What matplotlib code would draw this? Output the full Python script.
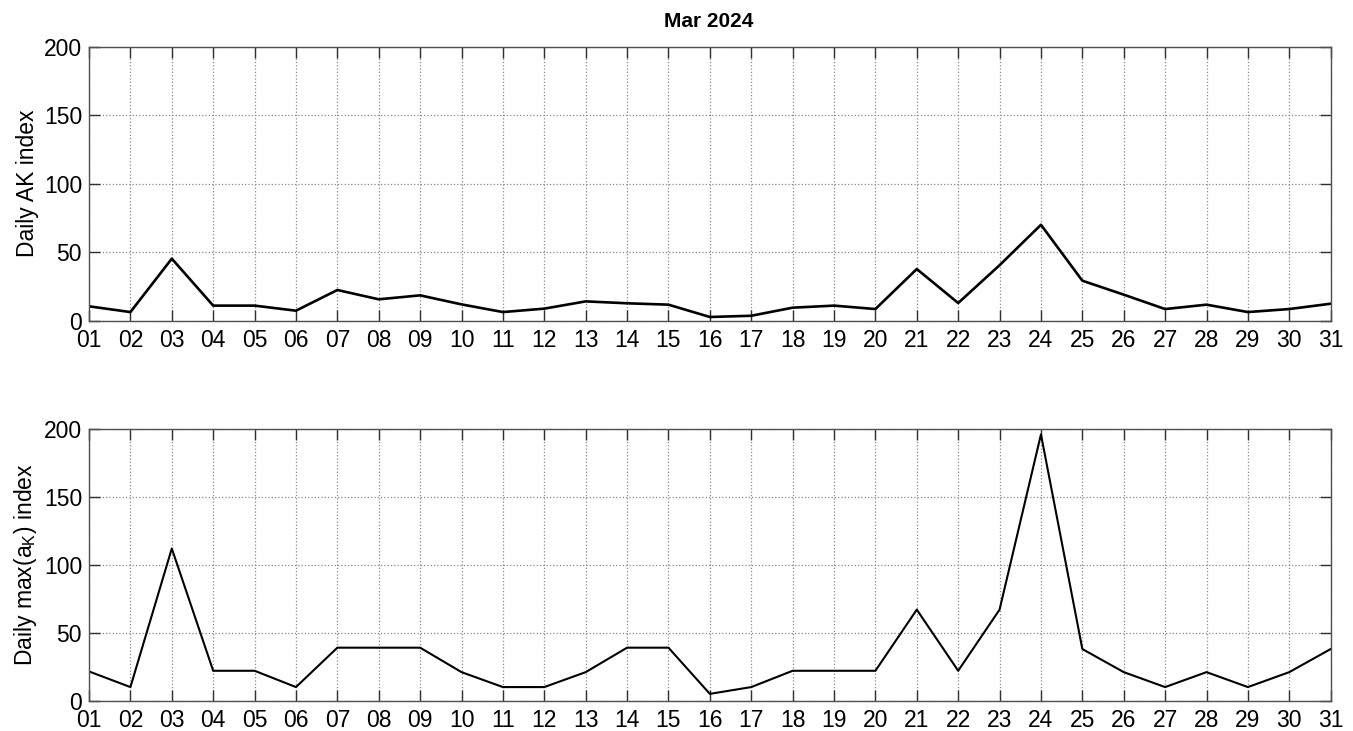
import matplotlib
matplotlib.use("Agg")
import matplotlib.pyplot as plt

plt.rcParams["font.family"] = ["Liberation Sans", "DejaVu Sans"]
plt.rcParams["mathtext.fontset"] = "custom"
plt.rcParams["mathtext.rm"] = "Liberation Sans"
plt.rcParams["mathtext.it"] = "Liberation Sans:italic"

days = list(range(1, 32))
day_labels = ["%02d" % d for d in days]

# daily AK index
ak_daily = [10.5, 6.3, 45.3, 11, 11, 7.3, 22.4, 15.6, 18.5, 11.9, 6.3, 8.8, 14.1, 12.7, 11.7, 2.7,
            3.6, 9.5, 11, 8.5, 37.7, 12.9, 40.5, 70, 29.2, 19, 8.5, 11.7, 6.3, 8.5, 12.4]
# daily max(a_K)
ak_max = [21.5, 10, 112, 22, 22, 10, 39, 39, 39, 21, 10, 10, 21, 39, 39, 5,
          10, 22, 22, 22, 67, 22, 67, 196, 38, 21, 10, 21, 10, 21, 38]

y_ticks = [0, 50, 100, 150, 200]

fig = plt.figure(figsize=(13.53, 7.31), dpi=100)
ax1 = fig.add_axes([0.0658, 0.5613, 0.9177, 0.3748])
ax2 = fig.add_axes([0.0658, 0.0415, 0.9177, 0.3717])

for ax, vals, lw in [(ax1, ak_daily, 1.9), (ax2, ak_max, 1.5)]:
    ax.plot(days, vals, color="black", lw=lw)
    ax.set_xlim(1, 31)
    ax.set_ylim(0, 200)
    ax.set_xticks(days)
    ax.set_xticklabels(day_labels)
    ax.set_yticks(y_ticks)
    ax.grid(True, linestyle=":", color="#8a8a8a", lw=0.9)
    ax.tick_params(direction="in", length=8, width=1, top=True, right=True,
                   labelsize=16.5, colors="#303030", labelcolor="black")
    ax.tick_params(axis="x", pad=6)
    ax.tick_params(axis="y", pad=5)
    for s in ax.spines.values():
        s.set_color("#505050")
        s.set_linewidth(1)

ax1.set_ylabel("Daily AK index", fontsize=16.5)
ax2.set_ylabel("Daily max(a$_{\\mathrm{K}}$) index", fontsize=16.5)
ax1.yaxis.set_label_coords(-0.040, 0.5)
ax2.yaxis.set_label_coords(-0.040, 0.5)

fig.text(0.5236, 0.963, "Mar 2024", ha="center", va="baseline", fontsize=15, fontweight="bold")

fig.savefig("out.png", dpi=100)
